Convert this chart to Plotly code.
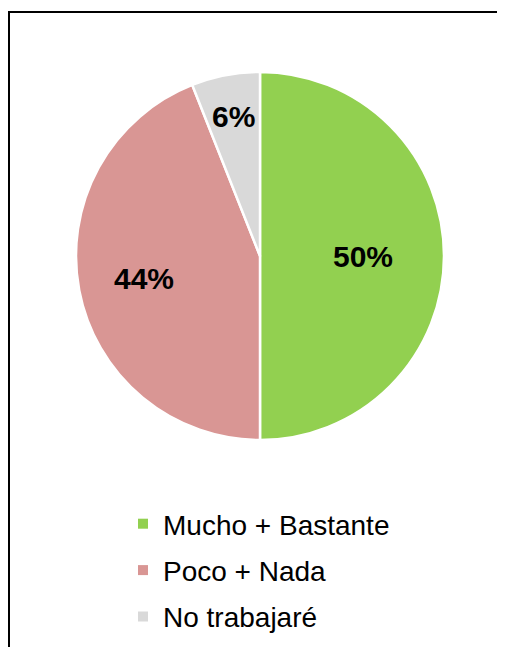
import math
import plotly.graph_objects as go

labels = ["Mucho + Bastante", "Poco + Nada", "No trabajaré"]
values = [50, 44, 6]
colors = ["#92D050", "#D99694", "#D9D9D9"]

# The page adds an 8px body margin, so the figure is sized to the visible area
W, H = 497, 639
cx, cy, R = 252, 248, 184           # pie centre / radius in figure pixels
label_frac = [0.56, 0.64, 0.77]     # radial position of each percentage label

fig = go.Figure()
fig.add_trace(go.Pie(
    labels=labels,
    values=values,
    sort=False,
    direction="clockwise",
    rotation=0,
    marker=dict(colors=colors, line=dict(color="white", width=2.5)),
    textinfo="none",
    domain=dict(x=[(cx - R) / W, (cx + R) / W], y=[1 - (cy + R) / H, 1 - (cy - R) / H]),
    hoverinfo="label+percent",
    showlegend=False,
))

# Legend entries (one group per category so the row spacing can be set)
for lab, col in zip(labels, colors):
    fig.add_trace(go.Scatter(
        x=[None], y=[None], mode="markers", name=lab,
        marker=dict(symbol="square", size=10, color=col),
        legendgroup=lab, showlegend=True,
    ))

# Percentage labels, placed at the mid-angle of each slice
total = sum(values)
annotations = []
cum = 0
for v, f in zip(values, label_frac):
    mid = (cum + v / 2) / total * 2 * math.pi
    cum += v
    px = cx + f * R * math.sin(mid)
    py = cy - f * R * math.cos(mid)
    annotations.append(dict(
        x=px / W, y=1 - py / H, xref="paper", yref="paper",
        text=f"<b>{round(v / total * 100)}%</b>", showarrow=False,
        font=dict(family="Liberation Sans, Arial", size=30, color="black"),
        xanchor="center", yanchor="middle",
    ))

fig.update_layout(
    width=W, height=H,
    margin=dict(l=0, r=0, t=0, b=0),
    paper_bgcolor="white",
    plot_bgcolor="white",
    font=dict(family="Liberation Sans, Arial", color="black"),
    xaxis=dict(visible=False),
    yaxis=dict(visible=False),
    annotations=annotations,
    legend=dict(
        x=115 / W, y=1 - 491 / H, xanchor="left", yanchor="top",
        font=dict(size=28, color="black"),
        bgcolor="rgba(0,0,0,0)",
        tracegroupgap=7,
        itemsizing="trace",
    ),
    shapes=[
        dict(type="line", xref="paper", yref="paper",
             x0=1 / W, x1=1 / W, y0=-0.05, y1=1 - 3 / H,
             line=dict(color="black", width=2)),
        dict(type="line", xref="paper", yref="paper",
             x0=0, x1=1.05, y0=1 - 4 / H, y1=1 - 4 / H,
             line=dict(color="black", width=2)),
    ],
)

fig.write_html("out.html")
